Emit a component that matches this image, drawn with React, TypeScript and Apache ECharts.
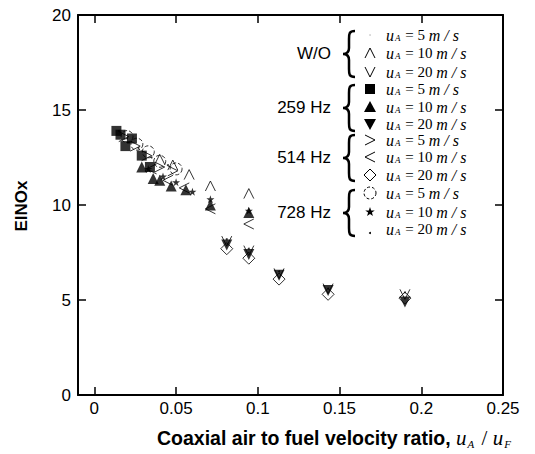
import React, { useEffect, useRef } from "react";
import * as echarts from "echarts";

// ---- data (x = uA/uF, y = EINOx) ----
const groupLabels = ["W/O", "259 Hz", "514 Hz", "728 Hz"];
const speedLabels = ["5", "10", "20"];
const xTicks = [0, 0.05, 0.1, 0.15, 0.2, 0.25];
const yTicks = [0, 5, 10, 15, 20];

const wo5 = [[0.015, 13.9], [0.02, 13.5], [0.027, 13.0], [0.035, 12.5], [0.045, 12.1]];
const wo10 = [[0.04, 12.4], [0.048, 12.1], [0.058, 11.6], [0.071, 11.0], [0.0945, 10.6]];
const wo20 = [[0.081, 8.1], [0.0945, 7.6], [0.113, 6.4], [0.143, 5.6], [0.19, 5.3]];
const hz259u5 = [[0.0135, 13.9], [0.016, 13.7], [0.019, 13.1], [0.023, 13.5], [0.029, 12.6], [0.034, 12.0]];
const hz259u10 = [[0.029, 12.0], [0.036, 11.4], [0.04, 11.3], [0.047, 11.0], [0.056, 10.8], [0.071, 10.0], [0.0945, 9.6]];
const hz259u20 = [[0.081, 7.9], [0.0945, 7.4], [0.113, 6.3], [0.143, 5.5], [0.19, 4.9]];
const hz514u5 = [[0.018, 13.6], [0.025, 13.1], [0.032, 12.6], [0.04, 12.0], [0.048, 11.8]];
const hz514u10 = [[0.035, 11.9], [0.045, 11.3], [0.055, 10.9], [0.071, 9.8], [0.0945, 9.0]];
const hz514u20 = [[0.081, 7.7], [0.0945, 7.2], [0.113, 6.1], [0.143, 5.3], [0.19, 5.1]];
const hz728u5 = [[0.02, 13.6], [0.026, 13.2], [0.033, 12.8], [0.04, 12.3], [0.05, 11.9]];
const hz728u10 = [[0.033, 11.9], [0.042, 11.5], [0.05, 11.2], [0.06, 10.7], [0.071, 10.3], [0.0945, 9.7]];
const hz728u20 = [[0.081, 8.2], [0.0945, 7.7], [0.113, 6.5], [0.143, 5.6], [0.19, 5.4]];

const seriesData = [wo5, wo10, wo20, hz259u5, hz259u10, hz259u20, hz514u5, hz514u10, hz514u20, hz728u5, hz728u10, hz728u20];

// ---- marker styles ----
const HAT = "path://M0,10 L5,0 L10,10";
const VEE = "path://M0,0 L5,10 L10,0";
const GT = "path://M0,0 L10,5 L0,10";
const LT = "path://M10,0 L0,5 L10,10";
const STAR = "path://M5,0 L6.2,3.6 L10,3.6 L6.9,5.9 L8.1,9.5 L5,7.3 L1.9,9.5 L3.1,5.9 L0,3.6 L3.8,3.6 Z";

const BRACE_D = "M12,0 C6,0 6,3 6,8 L6,17 C6,21 4,23 0,23 C4,23 6,25 6,29 L6,38 C6,43 6,46 12,46";
try {
  echarts.graphic.registerShape("brace", echarts.graphic.extendPath(BRACE_D, {}) as any);
} catch (e) {}

type Mk = { symbol: string; size: number; fill: boolean; rotate?: number; dashed?: boolean };
const markers: Mk[] = [
  { symbol: "circle", size: 2, fill: true },
  { symbol: HAT, size: 10, fill: false },
  { symbol: VEE, size: 10, fill: false },
  { symbol: "rect", size: 10, fill: true },
  { symbol: "triangle", size: 11, fill: true },
  { symbol: "triangle", size: 11, fill: true, rotate: 180 },
  { symbol: GT, size: 10, fill: false },
  { symbol: LT, size: 10, fill: false },
  { symbol: "diamond", size: 12, fill: false },
  { symbol: "circle", size: 12, fill: false, dashed: true },
  { symbol: STAR, size: 8, fill: true },
  { symbol: "circle", size: 2, fill: true },
];

const rowY = [35, 53, 72, 89, 107, 124, 140, 157, 175, 193, 212, 229];
const MX = 370;

function legendMarker(i: number, y: number): any {
  const x = MX;
  const line = { stroke: "#000", lineWidth: 1, fill: "none" };
  switch (i) {
    case 0:
      return { type: "circle", shape: { cx: x, cy: y, r: 0.6 }, style: { fill: "#999" } };
    case 1:
      return { type: "polyline", shape: { points: [[x - 5, y + 5], [x, y - 5], [x + 5, y + 5]] }, style: line };
    case 2:
      return { type: "polyline", shape: { points: [[x - 5, y - 5], [x, y + 5], [x + 5, y - 5]] }, style: line };
    case 3:
      return { type: "rect", shape: { x: x - 5, y: y - 5, width: 10, height: 10 }, style: { fill: "#000" } };
    case 4:
      return { type: "polygon", shape: { points: [[x - 6, y + 5], [x, y - 6], [x + 6, y + 5]] }, style: { fill: "#000" } };
    case 5:
      return { type: "polygon", shape: { points: [[x - 6, y - 5], [x, y + 6], [x + 6, y - 5]] }, style: { fill: "#000" } };
    case 6:
      return { type: "polyline", shape: { points: [[x - 5, y - 5], [x + 5, y], [x - 5, y + 5]] }, style: line };
    case 7:
      return { type: "polyline", shape: { points: [[x + 5, y - 5], [x - 5, y], [x + 5, y + 5]] }, style: line };
    case 8:
      return { type: "polygon", shape: { points: [[x, y - 6], [x + 6, y], [x, y + 6], [x - 6, y]] }, style: line };
    case 9:
      return { type: "circle", shape: { cx: x, cy: y, r: 6 }, style: { ...line, lineDash: [3, 2] } };
    case 10: {
      const pts: number[][] = [];
      for (let k = 0; k < 10; k++) {
        const r = k % 2 === 0 ? 5 : 2;
        const a = -Math.PI / 2 + (k * Math.PI) / 5;
        pts.push([x + r * Math.cos(a), y + r * Math.sin(a)]);
      }
      return { type: "polygon", shape: { points: pts }, style: { fill: "#000" } };
    }
    default:
      return { type: "circle", shape: { cx: x, cy: y + 4, r: 1 }, style: { fill: "#000" } };
  }
}

const serifRich = {
  u: { fontFamily: "Liberation Serif", fontStyle: "italic", fontSize: 16, lineHeight: 15, verticalAlign: "middle" },
  s: { fontFamily: "Liberation Serif", fontStyle: "italic", fontSize: 9, lineHeight: 9, verticalAlign: "bottom", padding: [7, 1, 0, 1] },
  t: { fontFamily: "Liberation Serif", fontSize: 15, lineHeight: 15, verticalAlign: "middle" },
};

export default function App() {
  const ref = useRef<HTMLDivElement>(null);
  useEffect(() => {
    document.body.style.margin = "0";
    const chart = echarts.init(ref.current!, null, { renderer: "svg" });

    const graphic: any[] = [];
    seriesData.forEach((_, i) => {
      const y = rowY[i];
      graphic.push(legendMarker(i, y));
      graphic.push({
        type: "text",
        x: 386,
        y: y,
        style: {
          text: `{u|u}{s|A}{t| = ${speedLabels[i % 3]} }{u|m / s}`,
          rich: serifRich,
          verticalAlign: "middle",
          fill: "#000",
        },
      });
    });
    groupLabels.forEach((g, gi) => {
      const midY = rowY[gi * 3 + 1];
      graphic.push({
        type: "text",
        x: 331,
        y: midY,
        style: { text: g, fontFamily: "Liberation Sans", fontSize: 17, fill: "#000", align: "right", verticalAlign: "middle" },
      });
      graphic.push({
        type: "brace",
        x: 343,
        y: midY - 22,
        style: { stroke: "#000", fill: "none", lineWidth: 2.5 },
      });
    });
    graphic.push({
      type: "text",
      x: 21,
      y: 206,
      rotation: Math.PI / 2,
      style: { text: "EINOx", fontFamily: "Liberation Sans", fontWeight: "bold", fontSize: 17, fill: "#000", align: "center", verticalAlign: "middle" },
    });
    graphic.push({
      type: "text",
      x: 157,
      y: 438,
      style: {
        text: "{b|Coaxial air to fuel velocity ratio, }{u|u}{s|A}{t| / }{u|u}{s|F}",
        rich: {
          b: { fontFamily: "Liberation Sans", fontWeight: "bold", fontSize: 19.5, lineHeight: 22, verticalAlign: "middle" },
          u: { fontFamily: "Liberation Serif", fontStyle: "italic", fontSize: 21, lineHeight: 22, verticalAlign: "middle" },
          s: { fontFamily: "Liberation Serif", fontStyle: "italic", fontSize: 11, lineHeight: 11, verticalAlign: "bottom", padding: [14, 2, 0, 1] },
          t: { fontFamily: "Liberation Serif", fontSize: 21, lineHeight: 22, verticalAlign: "middle" },
        },
        verticalAlign: "middle",
        fill: "#000",
      },
    });

    const axisLine = { show: true, onZero: false, lineStyle: { color: "#000", width: 2 } };
    const tick = { show: true, inside: true, length: 8, lineStyle: { color: "#000", width: 1.5 } };
    const labelStyle = { color: "#000", fontSize: 17, fontFamily: "Liberation Sans" };

    chart.setOption({
      animation: false,
      backgroundColor: "#fff",
      grid: { left: 78, top: 15, width: 425, height: 380, show: false },
      xAxis: [
        {
          type: "value", position: "bottom", min: -0.01, max: 0.25,
          axisLine, splitLine: { show: false },
          axisTick: { ...tick, customValues: xTicks },
          axisLabel: { ...labelStyle, margin: 5, customValues: xTicks, formatter: (v: number) => String(v) },
        },
        {
          type: "value", position: "top", min: -0.01, max: 0.25,
          axisLine, splitLine: { show: false },
          axisTick: { ...tick, customValues: xTicks },
          axisLabel: { show: false },
        },
      ],
      yAxis: [
        {
          type: "value", position: "left", min: 0, max: 20, interval: 5,
          axisLine, splitLine: { show: false },
          axisTick: tick,
          axisLabel: { ...labelStyle, margin: 7 },
        },
        {
          type: "value", position: "right", min: 0, max: 20, interval: 5,
          axisLine, splitLine: { show: false },
          axisTick: tick,
          axisLabel: { show: false },
        },
      ],
      series: seriesData.map((d, i) => {
        const m = markers[i];
        return {
          type: "scatter",
          name: `${groupLabels[Math.floor(i / 3)]} uA=${speedLabels[i % 3]}`,
          xAxisIndex: 0,
          yAxisIndex: 0,
          data: d,
          symbol: m.symbol,
          symbolSize: m.size,
          symbolRotate: m.rotate || 0,
          itemStyle: m.fill
            ? { color: "#000" }
            : { color: "rgba(0,0,0,0)", borderColor: "#000", borderWidth: 1, borderType: m.dashed ? "dashed" : "solid" },
          z: 3,
        };
      }),
      graphic,
    });
    return () => chart.dispose();
  }, []);
  return <div ref={ref} style={{ width: 535, height: 454 }} />;
}
